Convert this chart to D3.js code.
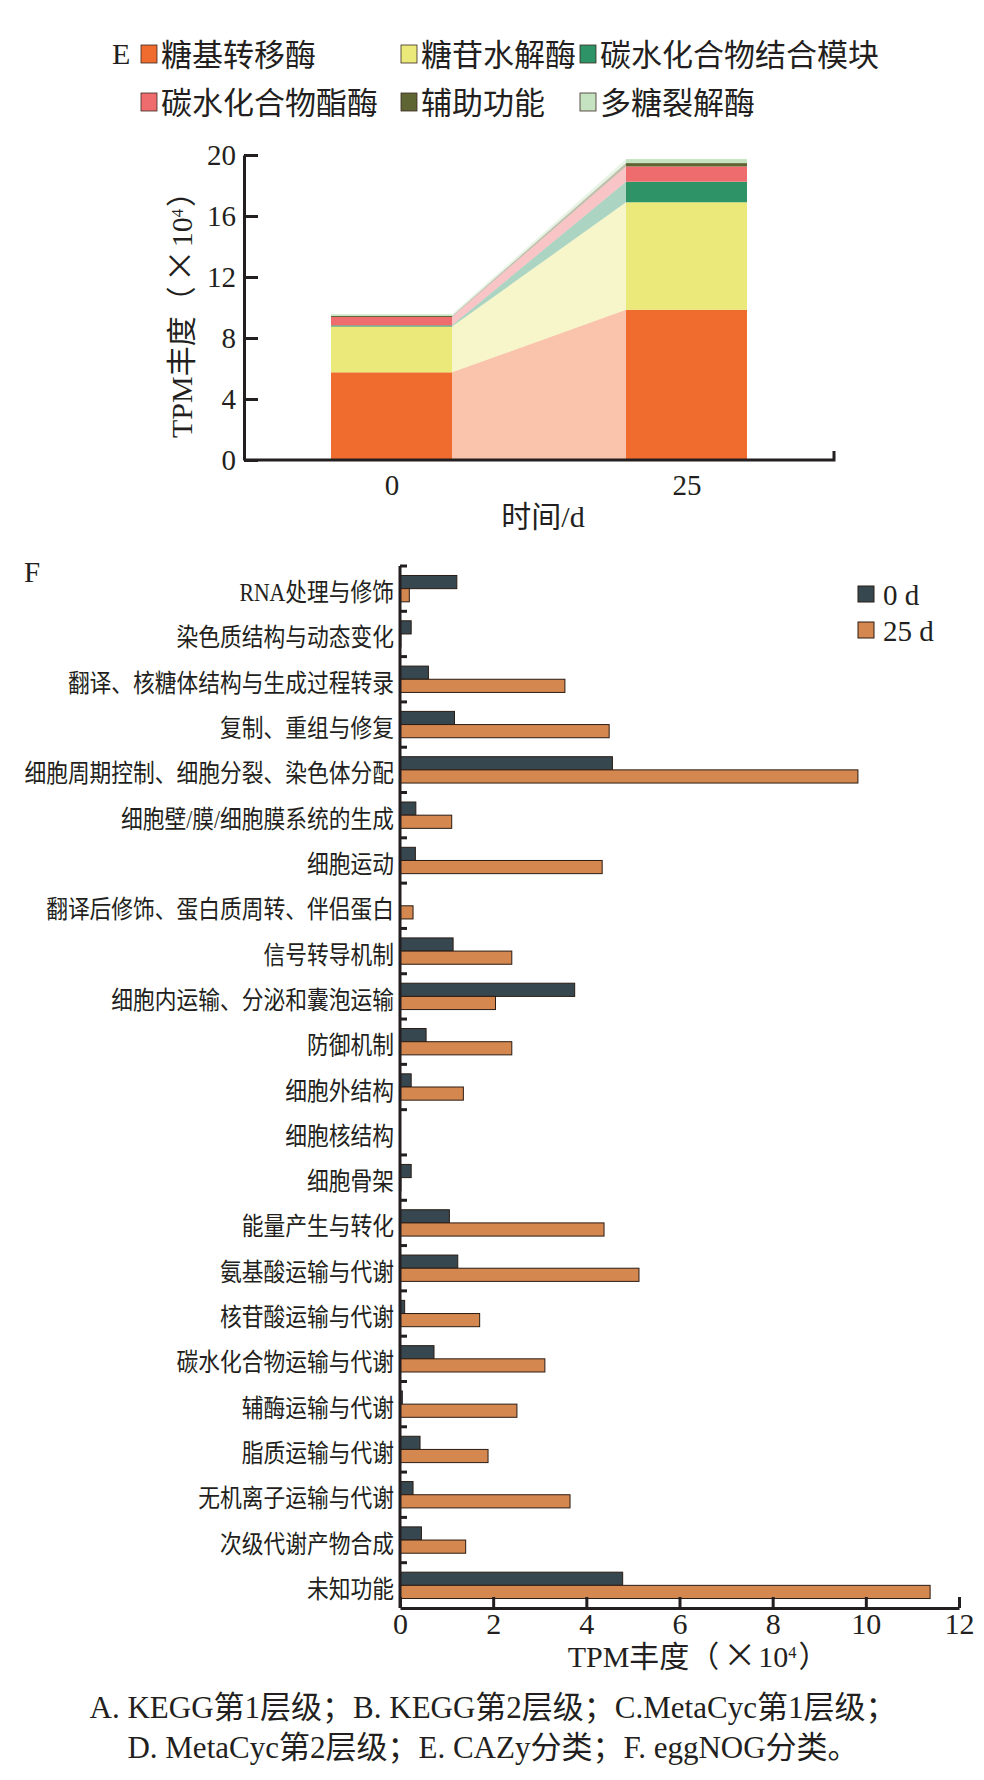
<!DOCTYPE html>
<html>
<head>
<meta charset="utf-8">
<script src="https://cdn.jsdelivr.net/npm/d3@7"></script>
<style>
  body { margin: 0; background: #fff; }
  svg { display: block; }
  text { font-family: "Liberation Serif", "Noto Sans CJK SC", serif; fill: #231f20; }
  .cjk { font-family: "Noto Sans CJK SC", sans-serif; }
  .axis path, .axis line { stroke: #231f20; stroke-width: 3; }
</style>
</head>
<body>
<svg id="chart" width="984" height="1780"></svg>
<script>
/* global d3 */

// E: CAZy classes (TPM x10^4)
var cazyDays = [ "0", "25" ];
var cazyClasses = [ "糖基转移酶", "糖苷水解酶", "碳水化合物结合模块", "碳水化合物酯酶", "辅助功能", "多糖裂解酶" ];
var cazyDay0 = [ 5.75, 3.0, 0.08, 0.55, 0.07, 0.1 ];
var cazyDay25 = [ 9.85, 7.05, 1.35, 1.0, 0.22, 0.26 ];
var cazyColors = [ "#ef6b2e", "#ece97b", "#2e9468", "#ee6b6e", "#5f6433", "#c5e3c0" ];
var cazyTicks = [ 0, 4, 8, 12, 16, 20 ];

// F: eggNOG categories (TPM x10^4)
var cogCategories = [
  "RNA处理与修饰", "染色质结构与动态变化", "翻译、核糖体结构与生成过程转录", "复制、重组与修复",
  "细胞周期控制、细胞分裂、染色体分配", "细胞壁/膜/细胞膜系统的生成", "细胞运动",
  "翻译后修饰、蛋白质周转、伴侣蛋白", "信号转导机制", "细胞内运输、分泌和囊泡运输", "防御机制",
  "细胞外结构", "细胞核结构", "细胞骨架", "能量产生与转化", "氨基酸运输与代谢", "核苷酸运输与代谢",
  "碳水化合物运输与代谢", "辅酶运输与代谢", "脂质运输与代谢", "无机离子运输与代谢",
  "次级代谢产物合成", "未知功能"
];
var cogSeries = [ "0 d", "25 d" ];
var cogDay0 = [ 1.22, 0.24, 0.61, 1.17, 4.56, 0.34, 0.33, 0, 1.14, 3.75, 0.56, 0.24, 0, 0.24,
  1.06, 1.24, 0.1, 0.73, 0.05, 0.43, 0.28, 0.46, 4.78 ];
var cogDay25 = [ 0.2, 0.02, 3.54, 4.49, 9.83, 1.11, 4.34, 0.28, 2.4, 2.05, 2.4, 1.36, 0, 0.02,
  4.38, 5.13, 1.71, 3.11, 2.51, 1.89, 3.65, 1.41, 11.38 ];
var cogColors = [ "#37474f", "#d4874f" ];
var cogTicks = [ 0, 2, 4, 6, 8, 10, 12 ];

var captionLines = [
  "A. KEGG第1层级；B. KEGG第2层级；C.MetaCyc第1层级；",
  "D. MetaCyc第2层级；E. CAZy分类；F. eggNOG分类。"
];

var svg = d3.select( "#chart" );

function tpmTitle( sel ) {
  sel.append( "tspan" ).text( "TPM丰度（" );
  sel.append( "tspan" ).attr( "class", "cjk" ).attr( "dx", 4 ).style( "font-size", "1.1em" ).text( "×" );
  sel.append( "tspan" ).attr( "dx", 2 ).text( "10" );
  sel.append( "tspan" ).attr( "baseline-shift", "super" ).style( "font-size", "0.55em" ).text( "4" );
  sel.append( "tspan" ).attr( "dx", 2 ).text( "）" );
}

// ---------- E ----------

function drawCazy() {

  var left = 244, right = 834, top = 155, bottom = 460, barW = 121;

  var x = d3.scalePoint()
    .domain( cazyDays )
    .range( [ left, right ] )
    .padding( 0.5 );

  var y = d3.scaleLinear()
    .domain( [ 0, 20 ] )
    .range( [ bottom, top ] );

  var rows = cazyDays.map( ( d, i ) => {
    var r = { day: d };
    cazyClasses.forEach( ( c, j ) => { r[ c ] = ( i === 0 ? cazyDay0 : cazyDay25 )[ j ]; } );
    return r;
  } );

  var stacked = d3.stack().keys( cazyClasses )( rows );

  var g = svg.append( "g" ).attr( "class", "cazy" );

  // connecting bands between the two bars
  var area = d3.area()
    .x( ( d, i ) => i === 0 ? x( cazyDays[ 0 ] ) + barW / 2 : x( cazyDays[ 1 ] ) - barW / 2 )
    .y0( d => y( d[ 0 ] ) )
    .y1( d => y( d[ 1 ] ) );

  g.selectAll( "path.band" )
    .data( stacked )
    .enter().append( "path" )
      .attr( "class", "band" )
      .attr( "d", area )
      .attr( "fill", ( d, i ) => cazyColors[ i ] )
      .attr( "fill-opacity", 0.4 );

  g.selectAll( "g.layer" )
    .data( stacked )
    .enter().append( "g" )
      .attr( "class", "layer" )
      .attr( "fill", ( d, i ) => cazyColors[ i ] )
    .selectAll( "rect" )
    .data( d => d )
    .enter().append( "rect" )
      .attr( "x", d => x( d.data.day ) - barW / 2 )
      .attr( "y", d => y( d[ 1 ] ) )
      .attr( "width", barW )
      .attr( "height", d => y( d[ 0 ] ) - y( d[ 1 ] ) );

  // axes
  var yAxis = d3.axisLeft( y ).tickValues( cazyTicks ).tickSizeInner( -14 ).tickSizeOuter( 0 ).tickPadding( 8 );
  g.append( "g" )
    .attr( "class", "axis" )
    .attr( "transform", "translate(" + left + ",0)" )
    .call( yAxis )
    .call( a => a.selectAll( "text" ).style( "font-size", "29px" ).attr( "dy", "0.34em" ) );

  var xAxis = d3.axisBottom( x ).tickSize( 0 ).tickPadding( 14 );
  g.append( "g" )
    .attr( "class", "axis" )
    .attr( "transform", "translate(0," + bottom + ")" )
    .call( xAxis )
    .call( a => a.select( ".domain" ).attr( "d", "M" + left + ",0H" + right + "V-9" ) )
    .call( a => a.selectAll( "text" ).style( "font-size", "29px" ) );

  g.append( "text" )
    .attr( "x", ( left + right ) / 2 + 4 )
    .attr( "y", 527 )
    .attr( "text-anchor", "middle" )
    .style( "font-size", "30px" )
    .text( "时间/d" );

  g.append( "text" )
    .attr( "transform", "translate(192," + ( ( top + bottom ) / 2 ) + ") rotate(-90)" )
    .attr( "text-anchor", "middle" )
    .style( "font-size", "30px" )
    .call( tpmTitle );

  // legend
  g.append( "text" )
    .attr( "x", 112 )
    .attr( "y", 64 )
    .style( "font-size", "30px" )
    .text( "E" );

  var legendX = [ 141, 401, 580 ];
  var legend = g.selectAll( "g.legend" )
    .data( cazyClasses )
    .enter().append( "g" )
      .attr( "class", "legend" )
      .attr( "transform", ( d, i ) => "translate(" + legendX[ i % 3 ] + "," + ( 54 + Math.floor( i / 3 ) * 48 ) + ")" );

  legend.append( "rect" )
    .attr( "x", 0 )
    .attr( "y", -9 )
    .attr( "width", 16 )
    .attr( "height", 18 )
    .attr( "fill", ( d, i ) => cazyColors[ i ] )
    .attr( "stroke", "#3a2a22" )
    .attr( "stroke-width", 0.8 );

  legend.append( "text" )
    .attr( "x", 20 )
    .attr( "y", 1 )
    .attr( "dominant-baseline", "central" )
    .style( "font-size", "31px" )
    .text( d => d );

}

// ---------- F ----------

function drawCog() {

  var left = 400, right = 959, top = 566, bottom = 1608;

  var x = d3.scaleLinear()
    .domain( [ 0, 12 ] )
    .range( [ left, right ] );

  var y = d3.scaleBand()
    .domain( cogCategories )
    .range( [ top, bottom ] );

  var ySub = d3.scaleBand()
    .domain( cogSeries )
    .range( [ 0, y.bandwidth() ] )
    .paddingOuter( 0.72 );

  var rows = cogCategories.map( ( c, i ) => ( { cat: c, values: [ cogDay0[ i ], cogDay25[ i ] ] } ) );

  var g = svg.append( "g" ).attr( "class", "cog" );

  g.selectAll( "g.cat" )
    .data( rows )
    .enter().append( "g" )
      .attr( "class", "cat" )
      .attr( "transform", d => "translate(0," + y( d.cat ) + ")" )
    .selectAll( "rect" )
    .data( d => d.values.map( ( v, k ) => ( { s: cogSeries[ k ], v: v, k: k } ) ).filter( e => e.v > 0 ) )
    .enter().append( "rect" )
      .attr( "x", x( 0 ) )
      .attr( "y", d => ySub( d.s ) )
      .attr( "width", d => x( d.v ) - x( 0 ) )
      .attr( "height", ySub.bandwidth() )
      .attr( "fill", d => cogColors[ d.k ] )
      .attr( "stroke", "#2a1c14" )
      .attr( "stroke-width", 1 );

  // category labels, slightly condensed like the original
  g.selectAll( "text.catLabel" )
    .data( cogCategories )
    .enter().append( "text" )
      .attr( "class", "catLabel" )
      .attr( "transform", d => "translate(" + ( left - 6 ) + "," + ( y( d ) + y.bandwidth() / 2 + 4 ) + ") scale(0.87,1)" )
      .attr( "text-anchor", "end" )
      .attr( "dominant-baseline", "central" )
      .style( "font-size", "25px" )
      .text( d => d );

  // y axis line and band separators
  g.append( "line" )
    .attr( "x1", left ).attr( "x2", left )
    .attr( "y1", top ).attr( "y2", bottom )
    .attr( "stroke", "#231f20" )
    .attr( "stroke-width", 3 );

  g.selectAll( "line.sep" )
    .data( cogCategories )
    .enter().append( "line" )
      .attr( "class", "sep" )
      .attr( "x1", left ).attr( "x2", left + 7 )
      .attr( "y1", d => y( d ) ).attr( "y2", d => y( d ) )
      .attr( "stroke", "#231f20" )
      .attr( "stroke-width", 3 );

  var xAxis = d3.axisBottom( x ).tickValues( cogTicks ).tickSizeInner( -11 ).tickSizeOuter( 0 ).tickPadding( 5 );
  g.append( "g" )
    .attr( "class", "axis" )
    .attr( "transform", "translate(0," + bottom + ")" )
    .call( xAxis )
    .call( a => a.selectAll( "text" ).style( "font-size", "30px" ) );

  g.append( "text" )
    .attr( "x", x( 6.4 ) )
    .attr( "y", 1667 )
    .attr( "text-anchor", "middle" )
    .style( "font-size", "30px" )
    .call( tpmTitle );

  g.append( "text" )
    .attr( "x", 24 )
    .attr( "y", 582 )
    .style( "font-size", "29px" )
    .text( "F" );

  // legend
  var legend = g.selectAll( "g.legend" )
    .data( cogSeries )
    .enter().append( "g" )
      .attr( "class", "legend" )
      .attr( "transform", ( d, i ) => "translate(858," + ( 594 + i * 36 ) + ")" );

  legend.append( "rect" )
    .attr( "x", 0 )
    .attr( "y", -8 )
    .attr( "width", 16 )
    .attr( "height", 16 )
    .attr( "fill", ( d, i ) => cogColors[ i ] )
    .attr( "stroke", "#2a1c14" )
    .attr( "stroke-width", 1 );

  legend.append( "text" )
    .attr( "x", 25 )
    .attr( "y", 1 )
    .attr( "dominant-baseline", "central" )
    .style( "font-size", "29px" )
    .text( d => d );

}

drawCazy();
drawCog();

svg.selectAll( "text.caption" )
  .data( captionLines )
  .enter().append( "text" )
    .attr( "class", "caption" )
    .attr( "x", 493 )
    .attr( "y", ( d, i ) => 1718 + i * 40 )
    .attr( "text-anchor", "middle" )
    .style( "font-size", "31px" )
    .text( d => d );
</script>
</body>
</html>
